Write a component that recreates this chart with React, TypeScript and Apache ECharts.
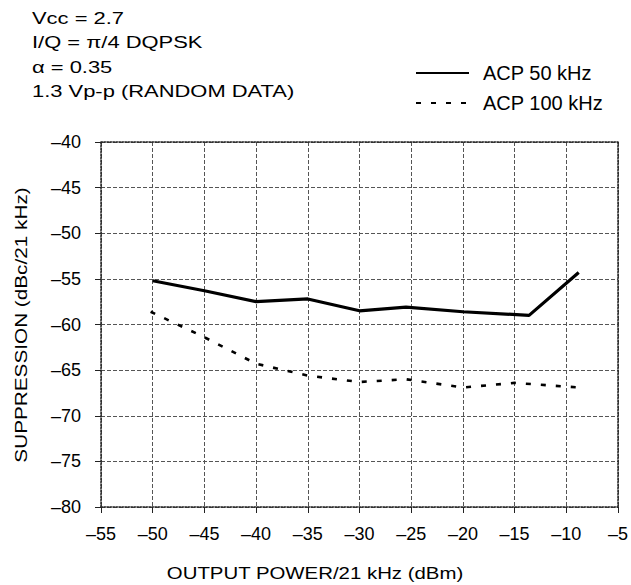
import React, { useEffect, useRef } from "react";
import * as echarts from "echarts";

const xTicks = [-55, -50, -45, -40, -35, -30, -25, -20, -15, -10, -5];
const yTicks = [-80, -75, -70, -65, -60, -55, -50, -45, -40];

const acp50Power = [-50, -45, -40, -35, -30, -25.5, -20, -13.6, -8.8];
const acp50Suppression = [-55.2, -56.3, -57.5, -57.2, -58.5, -58.1, -58.6, -59.0, -54.3];

const acp100Power = [-50.2, -45, -40, -35, -30, -25.5, -20, -15, -8.8];
const acp100Suppression = [-58.6, -61.4, -64.3, -65.6, -66.3, -66.0, -66.9, -66.4, -66.9];

const notes = ["Vcc = 2.7", "I/Q = \u03c0/4 DQPSK", "\u03b1 = 0.35", "1.3 Vp-p (RANDOM DATA)"];
const seriesNames = ["ACP 50 kHz", "ACP 100 kHz"];
const xTitle = "OUTPUT POWER/21 kHz (dBm)";
const yTitle = "SUPPRESSION (dBc/21 kHz)";

const FONT = '"Liberation Sans", Arial, Helvetica, sans-serif';

const fmt = (v: number) => (v < 0 ? "\u2013" + Math.abs(v) : String(v));

export default function App() {
  const ref = useRef<HTMLDivElement>(null);
  useEffect(() => {
    if (!ref.current) return;
    const chart = echarts.init(ref.current, null, { renderer: "svg" });
    const borderLine = { show: true, lineStyle: { color: "#222", width: 1.5, type: "dotted" as const } };
    const gridLine = { show: true, lineStyle: { color: "#555", width: 1, type: [4, 2] as any } };
    chart.setOption({
      animation: false,
      backgroundColor: "#fff",
      textStyle: { fontFamily: FONT },
      grid: { left: 101, right: 10, top: 142, bottom: 78, containLabel: false },
      legend: {
        orient: "vertical",
        left: 410,
        top: 58,
        itemWidth: 53,
        itemHeight: 14,
        itemGap: 10,
        data: seriesNames,
        itemStyle: { color: "transparent", borderColor: "transparent", borderWidth: 0, opacity: 0 },
        textStyle: { fontFamily: FONT, fontSize: 20, color: "#000", padding: [0, 0, 0, 9] },
      },
      xAxis: [
        {
          type: "value",
          min: xTicks[0],
          max: xTicks[xTicks.length - 1],
          interval: 5,
          axisLine: borderLine,
          axisTick: { show: true, length: 6, lineStyle: { color: "#222" } },
          axisLabel: { color: "#000", fontSize: 18, fontFamily: FONT, margin: 18, formatter: fmt },
          splitLine: gridLine,
        },
        {
          type: "value",
          position: "top",
          min: xTicks[0],
          max: xTicks[xTicks.length - 1],
          interval: 5,
          axisLine: borderLine,
          axisTick: { show: false },
          axisLabel: { show: false },
          splitLine: { show: false },
        },
      ],
      yAxis: [
        {
          type: "value",
          min: yTicks[0],
          max: yTicks[yTicks.length - 1],
          interval: 5,
          axisLine: borderLine,
          axisTick: { show: true, length: 6, lineStyle: { color: "#222" } },
          axisLabel: { color: "#000", fontSize: 18, fontFamily: FONT, margin: 20, formatter: fmt },
          splitLine: gridLine,
        },
        {
          type: "value",
          position: "right",
          min: yTicks[0],
          max: yTicks[yTicks.length - 1],
          interval: 5,
          axisLine: borderLine,
          axisTick: { show: false },
          axisLabel: { show: false },
          splitLine: { show: false },
        },
      ],
      series: [
        {
          name: seriesNames[0],
          type: "line",
          symbol: "none",
          data: acp50Power.map((x, i) => [x, acp50Suppression[i]]),
          lineStyle: { color: "#000", width: 3.2, type: "solid" },
          itemStyle: { color: "#000" },
        },
        {
          name: seriesNames[1],
          type: "line",
          symbol: "none",
          data: acp100Power.map((x, i) => [x, acp100Suppression[i]]),
          lineStyle: { color: "#000", width: 2.6, type: [5, 10] },
          itemStyle: { color: "#000" },
        },
      ],
      graphic: [
        ...notes.map((t, i) => ({
          type: "text",
          x: 32,
          y: 18 + i * 24.3,
          scaleX: 1.29,
          style: { text: t, font: `17px ${FONT}`, fill: "#000", textAlign: "left", textVerticalAlign: "middle" },
        })),
        {
          type: "text",
          x: 315,
          y: 573,
          scaleX: 1.2,
          style: { text: xTitle, font: `17px ${FONT}`, fill: "#000", textAlign: "center", textVerticalAlign: "middle" },
        },
        {
          type: "text",
          x: 21,
          y: 325,
          rotation: Math.PI / 2,
          scaleX: 1.22,
          style: { text: yTitle, font: `17px ${FONT}`, fill: "#000", textAlign: "center", textVerticalAlign: "middle" },
        },
      ],
    });
    return () => chart.dispose();
  }, []);
  return (
    <div
      ref={ref}
      style={{ position: "fixed", left: 0, top: 0, width: 631, height: 585, background: "#fff" }}
    />
  );
}
